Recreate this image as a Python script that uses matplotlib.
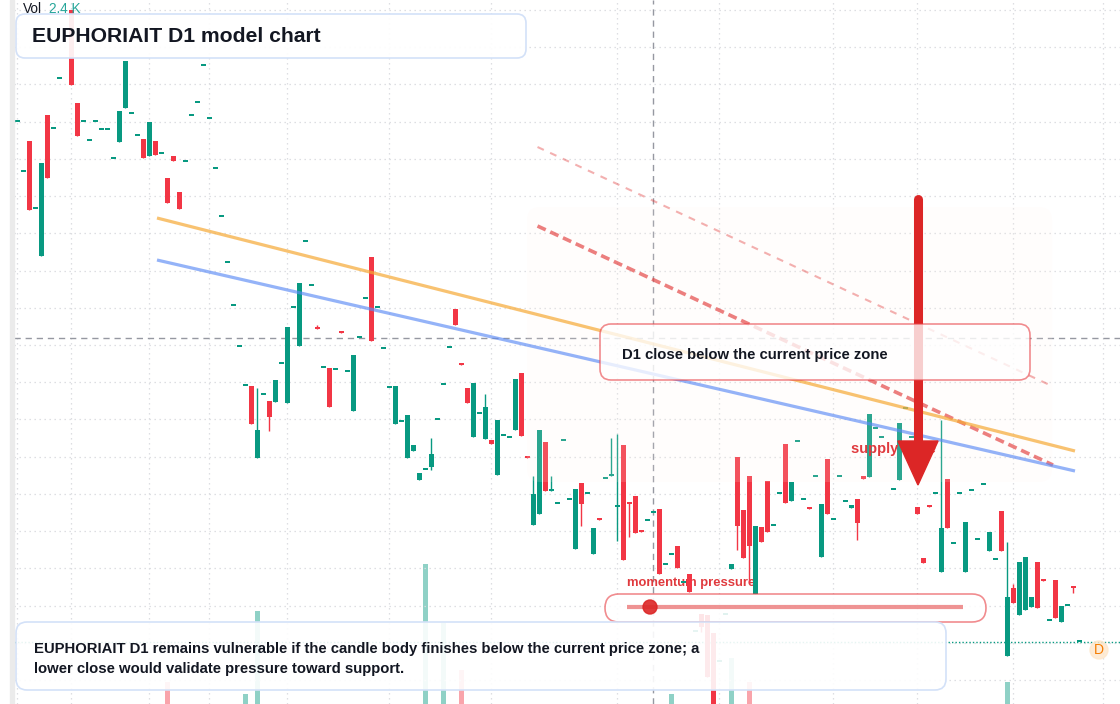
import matplotlib
matplotlib.use("Agg")
import matplotlib.pyplot as plt
import matplotlib.transforms as mtransforms
from matplotlib.patches import FancyBboxPatch, Rectangle, Polygon, Circle
import numpy as np

plt.rcParams['font.family'] = ['Liberation Sans', 'DejaVu Sans']
plt.rcParams['lines.scale_dashes'] = False

GREEN = '#089981'
RED = '#f23645'
INK = '#131722'

# daily candles, oldest first (None = no print)
opens = [0.678, 0.628, 0.659, 0.591, 0.544, 0.685, 0.671, 0.721, None, 0.790,
         0.697, 0.678, 0.659, 0.678, 0.670, 0.670, 0.641, 0.658, 0.692, 0.686,
         0.664, 0.661, 0.644, 0.659, 0.646, 0.622, 0.644, 0.608, 0.638, 0.684,
         0.697, 0.734, 0.681, 0.631, 0.583, 0.537, 0.494, 0.453, 0.414, 0.414,
         0.342, 0.405, 0.399, 0.398, 0.436, 0.397, 0.492, 0.454, 0.558, 0.514,
         0.473, 0.432, 0.432, 0.430, 0.468, 0.428, 0.389, 0.462, 0.501, 0.543,
         0.492, 0.451, 0.412, 0.376, 0.378, 0.342, 0.349, 0.320, 0.330, 0.333,
         0.380, 0.415, 0.452, 0.491, 0.436, 0.412, 0.363, 0.386, 0.361, 0.360,
         0.325, 0.364, 0.362, 0.370, 0.427, 0.343, 0.275, 0.286, 0.358, 0.309,
         0.296, 0.359, 0.300, 0.251, 0.317, 0.306, 0.246, 0.281, 0.321, 0.324,
         0.293, 0.355, 0.297, 0.304, 0.269, 0.279, 0.287, 0.291, 0.235, 0.245,
         0.254, 0.217, 0.226, 0.168, 0.186, 0.185, 0.167, 0.138, 0.185, 0.231,
         0.343, 0.290, 0.324, 0.206, 0.273, 0.319, 0.274, 0.306, 0.356, 0.299,
         0.358, 0.300, 0.292, 0.323, 0.243, 0.341, 0.280, 0.323, 0.298, 0.292,
         0.301, 0.324, 0.323, 0.371, 0.362, None, 0.310, 0.320, 0.391, 0.362,
         0.293, 0.242, 0.294, 0.306, 0.228, 0.321, 0.256, 0.306, 0.228, 0.309,
         0.260, 0.315, 0.249, 0.240, 0.289, 0.144, 0.212, 0.185, 0.190, 0.193,
         0.238, 0.220, 0.179, 0.220, 0.178, 0.194, 0.213, 0.158]
closes = [0.678, 0.628, 0.590, 0.591, 0.637, 0.622, 0.671, 0.721, None, 0.715,
          0.664, 0.678, 0.659, 0.678, 0.670, 0.670, 0.641, 0.689, 0.739, 0.686,
          0.664, 0.642, 0.678, 0.645, 0.646, 0.597, 0.639, 0.591, 0.638, 0.684,
          0.697, 0.734, 0.681, 0.631, 0.583, 0.537, 0.494, 0.453, 0.414, 0.376,
          0.370, 0.405, 0.383, 0.420, 0.436, 0.473, 0.492, 0.517, 0.558, 0.514,
          0.471, 0.432, 0.393, 0.430, 0.467, 0.428, 0.445, 0.462, 0.501, 0.459,
          0.492, 0.451, 0.412, 0.414, 0.378, 0.385, 0.355, 0.327, 0.330, 0.346,
          0.380, 0.415, 0.452, 0.475, 0.435, 0.397, 0.417, 0.386, 0.393, 0.356,
          0.380, 0.364, 0.362, 0.421, 0.364, 0.342, 0.306, 0.370, 0.309, 0.311,
          0.296, 0.359, 0.300, 0.311, 0.296, 0.306, 0.272, 0.280, 0.321, 0.324,
          0.293, 0.240, 0.296, 0.267, 0.268, 0.279, 0.287, 0.226, 0.235, 0.245,
          0.232, 0.217, 0.208, 0.168, 0.173, 0.123, 0.080, 0.138, 0.185, 0.236,
          0.274, 0.242, 0.254, 0.274, 0.258, 0.268, 0.274, 0.306, 0.297, 0.318,
          0.358, 0.300, 0.291, 0.323, 0.296, 0.286, 0.280, 0.323, 0.298, 0.295,
          0.277, 0.321, 0.386, 0.371, 0.362, None, 0.310, 0.377, 0.391, 0.362,
          0.286, 0.237, 0.293, 0.306, 0.272, 0.272, 0.256, 0.306, 0.278, 0.309,
          0.260, 0.315, 0.268, 0.240, 0.249, 0.203, 0.197, 0.238, 0.243, 0.203,
          0.192, 0.219, 0.179, 0.182, 0.194, 0.194, 0.212, 0.158]

# candles whose wick sticks out past the body
wick_idx = [40, 42, 50, 69, 78, 86, 89, 94, 99, 100, 102, 114, 120, 122, 140, 154, 165, 166, 176]
wick_high = [0.412, None, 0.475, 0.362, 0.406, 0.324, 0.324, None, 0.362, 0.366,
             None, None, None, None, None, 0.380, 0.258, 0.216, None]
wick_low = [None, 0.369, None, 0.330, None, None, None, 0.274, None, 0.259,
            0.263, 0.168, 0.250, 0.217, 0.260, None, None, None, 0.207]

vol_idx = [25, 38, 40, 68, 71, 74, 109, 119, 122, 165]
vol_vals = [220, 100, 930, 1400, 810, 340, 100, 460, 220, 220]

grid_idx = [0, 9, 22, 32, 45, 62, 79, 100, 117, 136, 150, 166, 181]

orange_x, orange_y = [23.25, 176.25], [0.582, 0.349]
blue_x, blue_y = [23.25, 176.25], [0.540, 0.329]
dash_x, dash_y = [86.67, 172.58], [0.574, 0.335]
dash2_x, dash2_y = [86.67, 172.4], [0.653, 0.414]
arrow_x, arrow_top, arrow_tip = 150.08, 0.601, 0.315
zone_x, zone_y = [84.92, 172.42], [0.318, 0.593]
cross_x, cross_y = 106, 0.462
last_price = 0.158

W, H = 1120, 704
fig = plt.figure(figsize=(W / 100, H / 100), dpi=100)
rect = [14 / W, 0, 1 - 14 / W, 1]
vax = fig.add_axes(rect)
ax = fig.add_axes(rect, sharex=vax)
ax.patch.set_alpha(0)
px = mtransforms.Affine2D().scale(1 / W, -1 / H).translate(0, 1) + fig.transFigure

fig.patches.append(Rectangle((10 / W, 0), 4 / W, 1, transform=fig.transFigure,
                             color='#ebebeb', zorder=0))

o = np.array([np.nan if v is None else v for v in opens])
c = np.array([np.nan if v is None else v for v in closes])
x = np.arange(len(o))
hi = np.fmax(o, c)
lo = np.fmin(o, c)
for i, h, l in zip(wick_idx, wick_high, wick_low):
    if h is not None:
        hi[i] = h
    if l is not None:
        lo[i] = l
ok = ~np.isnan(o)
col = np.where(c >= o, GREEN, RED)

# volume pane
vcol = [GREEN if closes[i] >= opens[i] else RED for i in vol_idx]
vax.bar(vol_idx, vol_vals, width=0.83, color=vcol, alpha=0.45, linewidth=0)
vax.set_ylim(0, 7040)
vax.axis('off')

ax.vlines(x[ok], lo[ok], hi[ok], colors=col[ok], lw=1, zorder=3)
ax.bar(x[ok], np.maximum(np.abs(c - o), 0.0016)[ok], bottom=np.fmin(o, c)[ok],
       width=0.83, color=col[ok], linewidth=0, zorder=3.1)

ax.set_xlim(-0.583, 183.75)
ax.set_ylim(0.096, 0.800)
ax.set_xticks(grid_idx)
ax.set_yticks(np.linspace(0.790, 0.120, 19))
ax.tick_params(length=0, labelleft=False, labelbottom=False)
ax.grid(True, color='#d9dbdf', ls=(0, (1, 2.6)), lw=0.9)
ax.set_axisbelow(True)
for s in ax.spines.values():
    s.set_visible(False)

ax.axvline(cross_x, color='#9598a1', ls=(0, (4.5, 3.5)), lw=1, zorder=1)
ax.axhline(cross_y, color='#9598a1', ls=(0, (4.5, 3.5)), lw=1, zorder=1)
ax.axhline(last_price, color=GREEN, ls=(0, (1, 1.5)), lw=1, zorder=1)

# zone overlay, drawn above candles
ax.add_patch(FancyBboxPatch((zone_x[0], zone_y[0]), zone_x[1] - zone_x[0], zone_y[1] - zone_y[0],
                            boxstyle='round,pad=0,rounding_size=2.2', mutation_aspect=0.006,
                            facecolor='#fff3ec', alpha=0.15, linewidth=0, zorder=4))

ax.plot(dash2_x, dash2_y, color='#e23b3b', alpha=0.4, lw=1.5, ls=(0, (5, 5)), zorder=4.5)
ax.plot(dash_x, dash_y, color='#e23b3b', alpha=0.65, lw=2.6, ls=(0, (6.5, 3.6)), zorder=4.5)
ax.plot(orange_x, orange_y, color='#f6a935', alpha=0.7, lw=2.3, solid_capstyle='butt', zorder=5)
ax.plot(blue_x, blue_y, color='#5b8af5', alpha=0.65, lw=2.3, solid_capstyle='butt', zorder=5)

ax.text(851, 449, 'supply zone', transform=px, color='#e03a3e', fontsize=10.5,
        fontweight='bold', va='center', zorder=5.5)
ax.plot([arrow_x, arrow_x], [arrow_top, arrow_tip + 0.04], color='#dc2626', lw=6.5,
        solid_capstyle='round', zorder=6)
ax.add_patch(Polygon([(arrow_x - 3.35, arrow_tip + 0.044), (arrow_x + 3.35, arrow_tip + 0.044),
                      (arrow_x, arrow_tip)], closed=True, color='#dc2626', zorder=6))

# callout box
ax.add_patch(FancyBboxPatch((600, 324), 430, 56, boxstyle='round,pad=0,rounding_size=11',
                            transform=px, facecolor=(1, 1, 1, 0.78),
                            edgecolor=(0.91, 0.25, 0.27, 0.6), lw=1.2, zorder=7, clip_on=False))
ax.text(622, 354.5, 'D1 close below the current price zone', transform=px, color=INK,
        fontsize=10.75, fontweight='bold', va='center', zorder=7.1)

# momentum gauge
ax.text(627, 583, 'momentum pressure', transform=px, color='#e03a3e', fontsize=9.4,
        fontweight='bold', va='center', zorder=2)
ax.add_patch(FancyBboxPatch((605, 594), 381, 28, boxstyle='round,pad=0,rounding_size=14',
                            transform=px, facecolor=(1, 1, 1, 0.88),
                            edgecolor=(0.91, 0.25, 0.27, 0.6), lw=1.2, zorder=7, clip_on=False))
ax.plot([627, 963], [607, 607], transform=px, color='#e23b3b', alpha=0.55, lw=3,
        solid_capstyle='butt', zorder=7.1)
ax.add_patch(Circle((650, 607), 7, transform=px, color='#dc2626', alpha=0.9, zorder=7.2))

# text panels
ax.add_patch(FancyBboxPatch((16, 622), 930, 68, boxstyle='round,pad=0,rounding_size=11',
                            transform=px, facecolor=(1, 1, 1, 0.9), edgecolor='#d3e1f8',
                            lw=1.2, zorder=7, clip_on=False))
summary = ['EUPHORIAIT D1 remains vulnerable if the candle body finishes below the current price zone; a',
           'lower close would validate pressure toward support.']
for k, line in enumerate(summary):
    ax.text(34, 648.5 + 21 * k, line, transform=px, color=INK, fontsize=10.75,
            fontweight='bold', va='center', zorder=7.1)

ax.add_patch(FancyBboxPatch((16, 14), 510, 44, boxstyle='round,pad=0,rounding_size=9',
                            transform=px, facecolor=(1, 1, 1, 0.92), edgecolor='#d3e1f8',
                            lw=1.2, zorder=7, clip_on=False))
ax.text(32, 37, 'EUPHORIAIT D1 model chart', transform=px, color=INK, fontsize=15.2,
        fontweight='bold', va='center', zorder=7.1)

ax.text(23, 9, 'Vol', transform=px, color=INK, fontsize=9.8, va='center', zorder=8)
ax.text(49, 9, '2.4 K', transform=px, color='#26a69a', fontsize=9.8, va='center', zorder=8)

ax.add_patch(Circle((1099, 650), 9, transform=px, color='#fde7cc', alpha=0.8, zorder=7))
ax.text(1099, 650, 'D', transform=px, color='#f57c00', fontsize=10, ha='center',
        va='center', zorder=7.1)

fig.savefig('out.png', dpi=100)
